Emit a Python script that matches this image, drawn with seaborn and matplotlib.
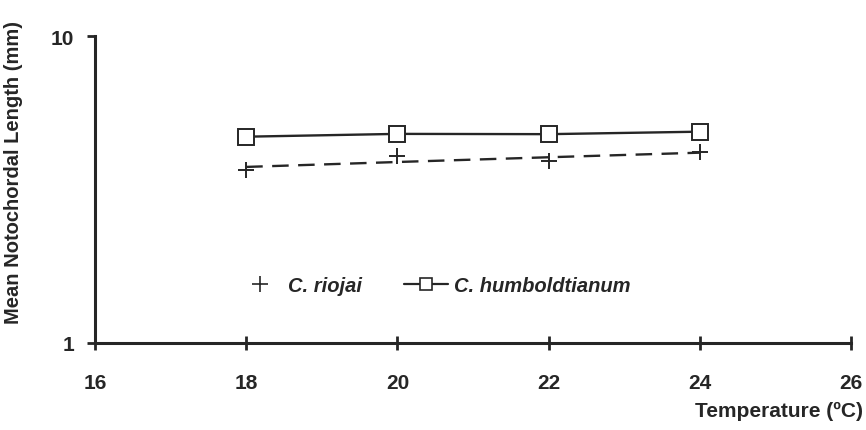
import numpy as np
import pandas as pd
import matplotlib
matplotlib.use("Agg")
import matplotlib.pyplot as plt
from matplotlib.lines import Line2D
import seaborn as sns

temperature = [18, 20, 22, 24]
riojai = [3.66, 4.07, 3.92, 4.18]
humboldtianum = [4.70, 4.80, 4.79, 4.88]
x_ticks = [16, 18, 20, 22, 24, 26]
y_ticks = [1, 10]

sns.set_style("white")
plt.rcParams['font.family'] = ['Liberation Sans', 'DejaVu Sans']

ink = "#262626"
fig = plt.figure(figsize=(8.66, 4.31), dpi=100)
ax = fig.add_axes([0.1097, 0.202, 0.8730, 0.712])

df = pd.DataFrame({"t": temperature, "r": riojai, "h": humboldtianum})

# dashed trend line for C. riojai
coef = np.polyfit(df["t"], df["r"], 1)
trend = np.polyval(coef, df["t"])
sns.lineplot(x=df["t"], y=trend, ax=ax, color=ink, lw=1.7,
             linestyle=(0, (7, 4)))
sns.scatterplot(x="t", y="r", data=df, ax=ax, marker="+", s=120,
                color=ink, linewidth=1.4)
sns.lineplot(x="t", y="h", data=df, ax=ax, color=ink, lw=1.7,
             marker="s", markersize=12, markerfacecolor="white",
             markeredgecolor=ink, markeredgewidth=1.4)

ax.set_yscale("log")
ax.set_xlim(16, 26)
ax.set_ylim(1, 10)
ax.set_xticks(x_ticks)
ax.set_xticklabels([str(v) for v in x_ticks])
ax.set_yticks(y_ticks)
ax.set_yticklabels([str(v) for v in y_ticks])
ax.yaxis.set_minor_locator(matplotlib.ticker.NullLocator())
ax.xaxis.set_minor_locator(matplotlib.ticker.NullLocator())

for s in ["top", "right"]:
    ax.spines[s].set_visible(False)
for s in ["left", "bottom"]:
    ax.spines[s].set_color(ink)
    ax.spines[s].set_linewidth(2.2)

ax.tick_params(axis="x", bottom=True, direction="inout", length=10, width=2, color=ink,
               labelsize=15, labelcolor=ink, pad=17)
ax.tick_params(axis="y", left=True, direction="out", length=6, width=2, color=ink,
               labelsize=15, labelcolor=ink, pad=9)
for lab in ax.get_xticklabels() + ax.get_yticklabels():
    lab.set_fontweight("bold")

ax.set_xlabel("Temperature (ºC)", fontsize=15, fontweight="bold", color=ink)
ax.xaxis.set_label_coords(1.016, -0.221)
ax.xaxis.label.set_horizontalalignment("right")
ax.xaxis.label.set_verticalalignment("center")
ax.set_ylabel("Mean Notochordal Length (mm)", fontsize=14.5, fontweight="bold", color=ink)
ax.yaxis.set_label_coords(-0.108, 0.56)
ax.yaxis.label.set_verticalalignment("center")

handles = [
    Line2D([], [], linestyle="none", marker="+", markersize=11, color=ink, markeredgewidth=1.2),
    Line2D([], [], color=ink, lw=1.6, marker="s", markersize=9, markerfacecolor="white",
           markeredgecolor=ink, markeredgewidth=1.2),
]
leg = ax.legend(handles, ["C. riojai", "C. humboldtianum"], ncol=2, frameon=False,
                loc="center left", bbox_to_anchor=(0.165, 0.186), handlelength=2.2,
                columnspacing=2.05, handletextpad=0.3,
                prop={"size": 14.5, "weight": "bold", "style": "italic"})
for t in leg.get_texts():
    t.set_color(ink)

fig.savefig("out.png", dpi=100)
